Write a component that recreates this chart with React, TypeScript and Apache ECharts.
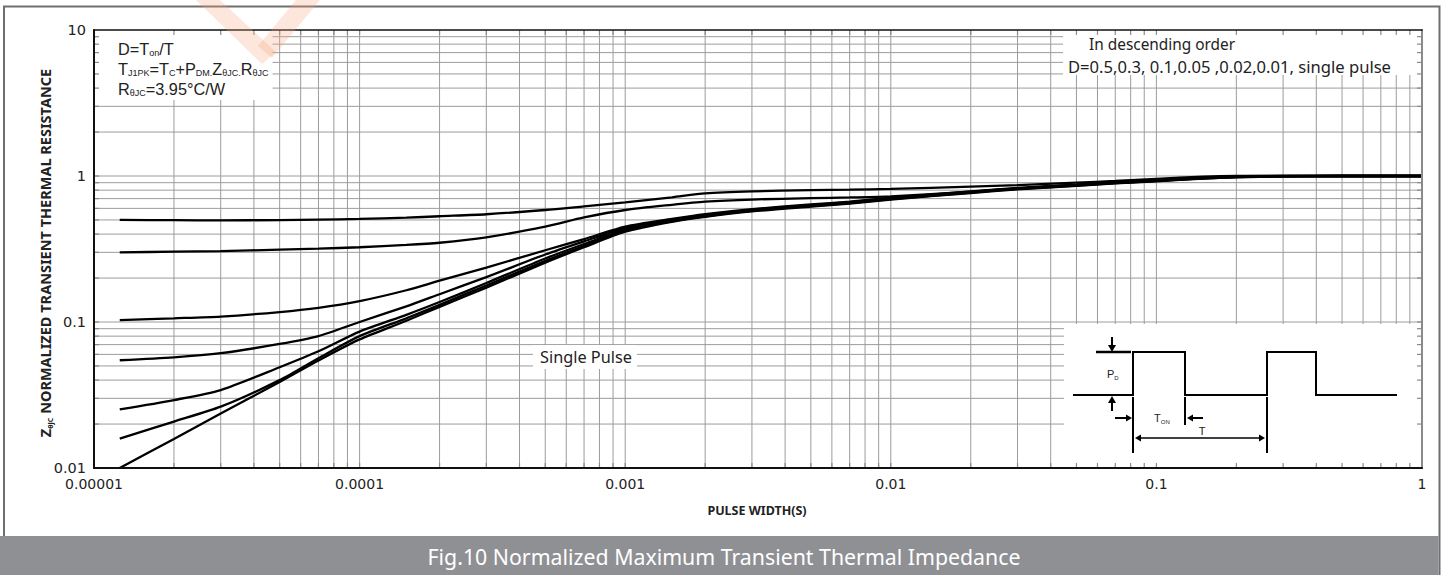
import React, { useEffect, useRef } from "react";
import * as echarts from "echarts";

// Pulse width (s) sample points shared by every curve
const pulseWidth = [
  1.25e-5, 2e-5, 3e-5, 5e-5, 7e-5, 1e-4, 1.5e-4, 2e-4, 3e-4, 5e-4, 7e-4, 1e-3, 1.5e-3,
  2e-3, 3e-3, 5e-3, 7e-3, 1e-2, 2e-2, 3e-2, 5e-2, 7e-2, 0.1, 0.15, 0.2, 0.3, 0.5, 1,
];

// Normalized Zth(jc) for each duty cycle
const zthD050 = [0.5, 0.498, 0.497, 0.499, 0.503, 0.508, 0.518, 0.53, 0.547, 0.585, 0.62, 0.66, 0.715, 0.76, 0.785, 0.8, 0.806, 0.815, 0.845, 0.865, 0.9, 0.925, 0.955, 0.99, 1.0, 1.0, 1.0, 1.0];
const zthD030 = [0.3, 0.303, 0.306, 0.313, 0.318, 0.325, 0.337, 0.349, 0.38, 0.45, 0.52, 0.585, 0.635, 0.667, 0.69, 0.705, 0.713, 0.725, 0.78, 0.82, 0.87, 0.905, 0.935, 0.975, 0.995, 1.0, 1.0, 1.0];
const zthD010 = [0.103, 0.106, 0.109, 0.117, 0.125, 0.139, 0.165, 0.192, 0.236, 0.31, 0.37, 0.45, 0.508, 0.548, 0.593, 0.638, 0.668, 0.708, 0.783, 0.828, 0.873, 0.903, 0.933, 0.97, 0.99, 1.0, 1.0, 1.0];
const zthD005 = [0.0547, 0.0573, 0.0612, 0.0707, 0.08, 0.1, 0.128, 0.155, 0.203, 0.29, 0.357, 0.44, 0.502, 0.541, 0.587, 0.632, 0.662, 0.704, 0.779, 0.824, 0.869, 0.9, 0.93, 0.968, 0.988, 0.998, 1.0, 1.0];
const zthD002 = [0.0252, 0.0292, 0.0342, 0.049, 0.063, 0.086, 0.112, 0.137, 0.185, 0.272, 0.342, 0.43, 0.495, 0.535, 0.582, 0.627, 0.657, 0.7, 0.775, 0.82, 0.865, 0.896, 0.928, 0.965, 0.985, 0.997, 1.0, 1.0];
const zthD001 = [0.0159, 0.0208, 0.0263, 0.04, 0.0565, 0.08, 0.106, 0.131, 0.178, 0.262, 0.333, 0.422, 0.49, 0.53, 0.577, 0.622, 0.652, 0.695, 0.77, 0.815, 0.86, 0.893, 0.925, 0.962, 0.983, 0.996, 1.0, 1.0];
const zthSingle = [0.01, 0.0158, 0.0236, 0.0388, 0.0545, 0.076, 0.102, 0.127, 0.172, 0.255, 0.325, 0.415, 0.485, 0.525, 0.572, 0.617, 0.648, 0.69, 0.765, 0.81, 0.855, 0.89, 0.92, 0.96, 0.98, 0.995, 1.0, 1.0];

const dutyNames = ["D=0.5", "D=0.3", "D=0.1", "D=0.05", "D=0.02", "D=0.01", "single pulse"];
const dutyValues = [zthD050, zthD030, zthD010, zthD005, zthD002, zthD001, zthSingle];

const xTickLabels = ["0.00001", "0.0001", "0.001", "0.01", "0.1", "1"];
const yTickLabels = ["0.01", "0.1", "1", "10"];

const X_MIN = 1e-5;
const X_MAX = 1;
const Y_MIN = 0.01;
const Y_MAX = 10;

// 1..9 x 10^e for every decade between the two exponents (ends excluded)
function logSteps(minExp: number, maxExp: number): number[] {
  const out: number[] = [];
  for (let e = minExp; e < maxExp; e++) {
    for (let m = 1; m <= 9; m++) {
      if (e === minExp && m === 1) continue;
      out.push(m * Math.pow(10, e));
    }
  }
  return out;
}

const xSteps = logSteps(-5, 0);
const ySteps = logSteps(-2, 1);

const GRID_COLOR = "#9c9c9c";
const TICK_COLOR = "#8a8a8a";
const TEXT_FONT = "'Noto Sans', 'DejaVu Sans', sans-serif";
const AXIS_FONT = "'DejaVu Sans', sans-serif";
const FORMULA_FONT = "'Liberation Sans', Arial, sans-serif";

function buildOption(): echarts.EChartsOption {
  const lineSeries = dutyValues.map((vals, i) => ({
    name: dutyNames[i],
    type: "line" as const,
    xAxisIndex: 0,
    yAxisIndex: 0,
    data: pulseWidth.map((t, k) => [t, vals[k]]),
    showSymbol: false,
    symbol: "none",
    smooth: 0.25,
    silent: true,
    z: 4,
    lineStyle: { color: "#000", width: 2.3 },
  }));

  const lineEl = (x1: number, y1: number, x2: number, y2: number, stroke: string, w: number) => ({
    type: "line",
    shape: { x1, y1, x2, y2 },
    style: { stroke, lineWidth: w },
  });

  const verticalGrid = {
    type: "custom" as const,
    silent: true,
    z: 1,
    xAxisIndex: 0,
    yAxisIndex: 0,
    data: xSteps.map((v) => [v, 1]),
    renderItem: (_p: any, api: any) => {
      const v = api.value(0);
      const a = api.coord([v, Y_MAX]);
      const b = api.coord([v, Y_MIN]);
      return lineEl(a[0], a[1], b[0], b[1], GRID_COLOR, 1);
    },
  };

  const horizontalGrid = {
    type: "custom" as const,
    silent: true,
    z: 1,
    xAxisIndex: 0,
    yAxisIndex: 0,
    data: ySteps.map((v) => [0.001, v]),
    renderItem: (_p: any, api: any) => {
      const v = api.value(1);
      const a = api.coord([X_MIN, v]);
      const b = api.coord([X_MAX, v]);
      return lineEl(a[0], a[1], b[0], b[1], GRID_COLOR, 1);
    },
  };

  const xTicks = {
    type: "custom" as const,
    silent: true,
    z: 3,
    xAxisIndex: 0,
    yAxisIndex: 0,
    data: xSteps.map((v) => [v, 1]),
    renderItem: (_p: any, api: any) => {
      const v = api.value(0);
      const top = api.coord([v, Y_MAX]);
      const bot = api.coord([v, Y_MIN]);
      return {
        type: "group",
        children: [
          lineEl(top[0], top[1], top[0], top[1] + 5, TICK_COLOR, 1.2),
          lineEl(bot[0], bot[1], bot[0], bot[1] - 5, TICK_COLOR, 1.2),
        ],
      };
    },
  };

  const yTicks = {
    type: "custom" as const,
    silent: true,
    z: 3,
    xAxisIndex: 0,
    yAxisIndex: 0,
    data: ySteps.map((v) => [0.001, v]),
    renderItem: (_p: any, api: any) => {
      const v = api.value(1);
      const l = api.coord([X_MIN, v]);
      const r = api.coord([X_MAX, v]);
      return {
        type: "group",
        children: [
          lineEl(l[0], l[1], l[0] + 5, l[1], TICK_COLOR, 1.2),
          lineEl(r[0], r[1], r[0] - 5, r[1], TICK_COLOR, 1.2),
        ],
      };
    },
  };

  const richSet = (size: number, subSize: number, family: string, lh: number) => ({
    m: { fontSize: size, fontFamily: family, fill: "#222", lineHeight: lh },
    s: { fontSize: subSize, fontFamily: family, fill: "#222", verticalAlign: "bottom" },
  });

  const formulaRich = richSet(16.3, 9, FORMULA_FONT, 18);
  const noteRich = richSet(15.4, 9, TEXT_FONT, 18);
  const noteRichWide = richSet(16.6, 9, TEXT_FONT, 18);
  const pulseRich = richSet(16.3, 9, TEXT_FONT, 18);
  const insetRich = richSet(11, 6, FORMULA_FONT, 13);

  const whiteBox = (x: number, y: number, w: number, h: number) => ({
    type: "rect",
    z: 2,
    silent: true,
    shape: { x, y, width: w, height: h },
    style: { fill: "#ffffff" },
  });

  const annoText = (x: number, y: number, text: string, rich: any, align = "left") => ({
    type: "text",
    z: 3,
    silent: true,
    x,
    y,
    style: { text, rich, align, verticalAlign: "middle" },
  });

  const seg = (x1: number, y1: number, x2: number, y2: number, w = 2) => ({
    type: "line",
    z: 3,
    silent: true,
    shape: { x1, y1, x2, y2 },
    style: { stroke: "#000", lineWidth: w },
  });
  const head = (pts: number[][]) => ({
    type: "polygon",
    z: 3,
    silent: true,
    shape: { points: pts },
    style: { fill: "#000" },
  });

  const graphic: any[] = [
    // outer frame
    {
      type: "polyline",
      z: 0,
      silent: true,
      shape: { points: [[4, 575], [4, 6.5], [1439.5, 6.5], [1439.5, 575]] },
      style: { stroke: "#6e6e6e", lineWidth: 2, fill: "none" },
    },
    // caption bar
    { type: "rect", z: 1, silent: true, shape: { x: 0, y: 536, width: 1438.5, height: 39 }, style: { fill: "#8f9094" } },
    {
      type: "text",
      z: 2,
      silent: true,
      x: 724,
      y: 556,
      style: {
        text: "Fig.10 Normalized Maximum Transient Thermal Impedance",
        fontFamily: TEXT_FONT,
        fontSize: 21.3,
        fill: "#ffffff",
        align: "center",
        verticalAlign: "middle",
      },
    },
    // axis titles
    {
      type: "text",
      z: 3,
      silent: true,
      x: 45,
      y: 253,
      rotation: Math.PI / 2,
      style: {
        text: "{b|Z}{s|θJC}{b| NORMALIZED TRANSIENT THERMAL RESISTANCE}",
        rich: {
          b: { fontSize: 14.5, fontFamily: TEXT_FONT, fontWeight: "bold", fill: "#222", lineHeight: 18 },
          s: { fontSize: 7, fontFamily: TEXT_FONT, fontWeight: "bold", fill: "#222", verticalAlign: "bottom" },
        },
        align: "center",
        verticalAlign: "middle",
      },
    },
    {
      type: "text",
      z: 3,
      silent: true,
      x: 757,
      y: 510,
      style: {
        text: "PULSE WIDTH(S)",
        fontFamily: TEXT_FONT,
        fontWeight: "bold",
        fontSize: 12.5,
        fill: "#222",
        align: "center",
        verticalAlign: "middle",
      },
    },
    // label boxes that mask the grid
    whiteBox(95.5, 31, 177, 69),
    whiteBox(1063, 31, 358, 44),
    whiteBox(533, 345, 104, 24),
    whiteBox(1064, 324, 357, 143),
    // formula block
    annoText(118, 48.5, "{m|D=T}{s|on}{m|/T}", formulaRich),
    annoText(118, 68.5, "{m|T}{s|J1PK}{m|=T}{s|C}{m|+P}{s|DM.}{m|Z}{s|θJC.}{m|R}{s|θJC}", formulaRich),
    annoText(118, 88.5, "{m|R}{s|θJC}{m|=3.95°C/W}", formulaRich),
    // order note
    annoText(1089, 44, "{m|In descending order}", noteRich),
    annoText(1068, 66, "{m|D=0.5,0.3, 0.1,0.05 ,0.02,0.01, single pulse}", noteRichWide),
    annoText(586, 357, "{m|Single Pulse}", pulseRich, "center"),
    // pulse-train sketch
    seg(1096, 352, 1131, 352, 2.4),
    seg(1112, 337, 1112, 346, 2),
    head([[1108, 345], [1116, 345], [1112, 352]]),
    {
      type: "polyline",
      z: 3,
      silent: true,
      shape: {
        points: [
          [1073, 395], [1133, 395], [1133, 352], [1185, 352], [1185, 395],
          [1267, 395], [1267, 352], [1316, 352], [1316, 395], [1397, 395],
        ],
      },
      style: { stroke: "#000", lineWidth: 2, fill: "none" },
    },
    seg(1112, 411, 1112, 402, 2),
    head([[1108, 403], [1116, 403], [1112, 396]]),
    annoText(1107, 374, "{m|P}{s|D}", insetRich),
    seg(1133, 397, 1133, 453, 2),
    seg(1185, 397, 1185, 425, 2),
    seg(1267, 397, 1267, 453, 2),
    seg(1115, 418, 1127, 418, 2),
    head([[1126, 414.5], [1126, 421.5], [1132, 418]]),
    seg(1203, 418, 1192, 418, 2),
    head([[1193, 414.5], [1193, 421.5], [1187, 418]]),
    annoText(1154, 418, "{m|T}{s|ON}", insetRich),
    seg(1140, 438, 1260, 438, 1.5),
    head([[1141, 434.5], [1141, 441.5], [1135, 438]]),
    head([[1259, 434.5], [1259, 441.5], [1265, 438]]),
    annoText(1202, 431, "{m|T}", insetRich, "center"),
    // faint watermark strokes
    {
      type: "polygon",
      z: 10,
      silent: true,
      shape: { points: [[196, 0], [220, 0], [276, 52], [262, 64]] },
      style: { fill: "rgba(248,165,125,0.28)" },
    },
    {
      type: "polygon",
      z: 10,
      silent: true,
      shape: { points: [[296, 0], [320, 0], [272, 58], [258, 46]] },
      style: { fill: "rgba(248,165,125,0.28)" },
    },
  ];

  const baseX = {
    type: "log" as const,
    logBase: 10,
    min: X_MIN,
    max: X_MAX,
    splitLine: { show: false },
    axisTick: { show: false },
    minorTick: { show: false },
    z: 5,
  };
  const baseY = {
    type: "log" as const,
    logBase: 10,
    min: Y_MIN,
    max: Y_MAX,
    splitLine: { show: false },
    axisTick: { show: false },
    minorTick: { show: false },
    z: 5,
  };

  return {
    animation: false,
    backgroundColor: "#ffffff",
    grid: { left: 94, right: 26, top: 30, bottom: 107, containLabel: false },
    xAxis: [
      {
        ...baseX,
        position: "bottom",
        axisLine: { show: true, lineStyle: { color: "#111", width: 2 } },
        axisLabel: {
          show: true,
          showMinLabel: true,
          showMaxLabel: true,
          margin: 9,
          fontFamily: AXIS_FONT,
          fontSize: 14,
          color: "#222",
          formatter: (v: number) => xTickLabels[Math.round(Math.log10(v)) + 5] ?? "",
        },
      },
      {
        ...baseX,
        position: "top",
        axisLine: { show: true, lineStyle: { color: "#111", width: 1.6 } },
        axisLabel: { show: false },
      },
    ],
    yAxis: [
      {
        ...baseY,
        position: "left",
        axisLine: { show: true, lineStyle: { color: "#111", width: 2 } },
        axisLabel: {
          show: true,
          showMinLabel: true,
          showMaxLabel: true,
          margin: 8,
          fontFamily: AXIS_FONT,
          fontSize: 14.5,
          color: "#222",
          formatter: (v: number) => yTickLabels[Math.round(Math.log10(v)) + 2] ?? "",
        },
      },
      {
        ...baseY,
        position: "right",
        axisLine: { show: true, lineStyle: { color: "#8a8a8a", width: 2 } },
        axisLabel: { show: false },
      },
    ],
    graphic,
    series: [verticalGrid, horizontalGrid, xTicks, yTicks, ...lineSeries] as any,
  };
}

export default function App() {
  const ref = useRef<HTMLDivElement>(null);

  useEffect(() => {
    if (!ref.current) return;
    const chart = echarts.init(ref.current, undefined, { renderer: "svg" });
    chart.setOption(buildOption());
    return () => chart.dispose();
  }, []);

  return (
    <div
      ref={ref}
      style={{ position: "fixed", left: 0, top: 0, width: 1448, height: 575, background: "#fff" }}
    />
  );
}
